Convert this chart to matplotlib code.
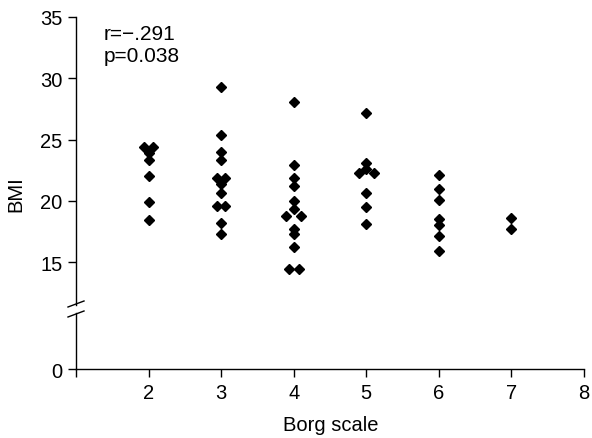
import matplotlib
matplotlib.use("Agg")
import matplotlib.pyplot as plt
from matplotlib.lines import Line2D

plt.rcParams['font.family'] = ['Liberation Sans', 'DejaVu Sans']

# Borg scale (with the small side-by-side offsets seen in the chart) and BMI
borg = [1.94, 2.06, 2.0, 2.0, 2.0, 2.0, 2.0,
        3.0, 3.0, 3.0, 3.0, 2.94, 3.06, 3.0, 3.0, 2.94, 3.06, 3.0, 3.0,
        4.0, 4.0, 4.0, 4.0, 4.0, 4.0, 3.9, 4.1, 4.0, 4.0, 4.0, 3.93, 4.07,
        5.0, 5.0, 5.0, 4.9, 5.1, 5.0, 5.0, 5.0,
        6.0, 6.0, 6.0, 6.0, 6.0, 6.0, 6.0,
        7.0, 7.0]
bmi = [24.4, 24.4, 23.9, 23.3, 22.0, 19.9, 18.4,
       29.3, 25.4, 24.0, 23.3, 21.9, 21.9, 21.4, 20.6, 19.6, 19.6, 18.2, 17.3,
       28.1, 22.9, 21.9, 21.2, 20.0, 19.3, 18.8, 18.8, 17.7, 17.3, 16.2, 14.4, 14.4,
       27.2, 23.1, 22.6, 22.3, 22.3, 20.6, 19.5, 18.1,
       22.1, 21.0, 20.1, 18.5, 18.0, 17.1, 15.9,
       18.6, 17.7]
upper_ticks = [15, 20, 25, 30, 35]
x_ticks = [1, 2, 3, 4, 5, 6, 7, 8]
x_labels = ['', '2', '3', '4', '5', '6', '7', '8']

W, H = 592, 439
fig = plt.figure(figsize=(W / 100, H / 100), dpi=100)


def px(x0, y0, x1, y1):
    # pixel box (top-left origin) -> figure fraction rect
    return [x0 / W, 1 - y1 / H, (x1 - x0) / W, (y1 - y0) / H]


ax = fig.add_axes(px(76, 18, 584, 306))
ax_lo = fig.add_axes(px(76, 314, 584, 370))

ax.plot(borg, bmi, linestyle='none', marker='D', ms=5.6, color='black')
ax.set_xlim(1, 8)
ax.set_ylim(11.5, 35)
ax.set_yticks(upper_ticks)
ax.set_xticks([])
for s in ['top', 'right', 'bottom']:
    ax.spines[s].set_visible(False)

ax_lo.set_xlim(1, 8)
ax_lo.set_ylim(0, 1)
ax_lo.set_yticks([0])
ax_lo.set_xticks(x_ticks)
ax_lo.set_xticklabels(x_labels)
for s in ['top', 'right']:
    ax_lo.spines[s].set_visible(False)

for a in (ax, ax_lo):
    a.tick_params(direction='out', length=5.8, width=1, labelsize=14.5, pad=4)
    for s in a.spines.values():
        s.set_linewidth(1)
    a.patch.set_alpha(0)

fig.text(104 / W, 1 - 34 / H, 'r=\u2212.291', fontsize=15, va='center', ha='left')
fig.text(104 / W, 1 - 56 / H, 'p=0.038', fontsize=15, va='center', ha='left')

fig.text(16 / W, 1 - 194 / H, 'BMI', rotation=90, fontsize=14.5, ha='center', va='center')
fig.text(331 / W, 1 - 426 / H, 'Borg scale', fontsize=14.5, ha='center', va='center')

# axis break marks
for y in (0, 10):
    fig.add_artist(Line2D([68 / W, 84 / W], [1 - (308 + y) / H, 1 - (302 + y) / H],
                          color='black', lw=1))

fig.savefig('out.png', dpi=100)
